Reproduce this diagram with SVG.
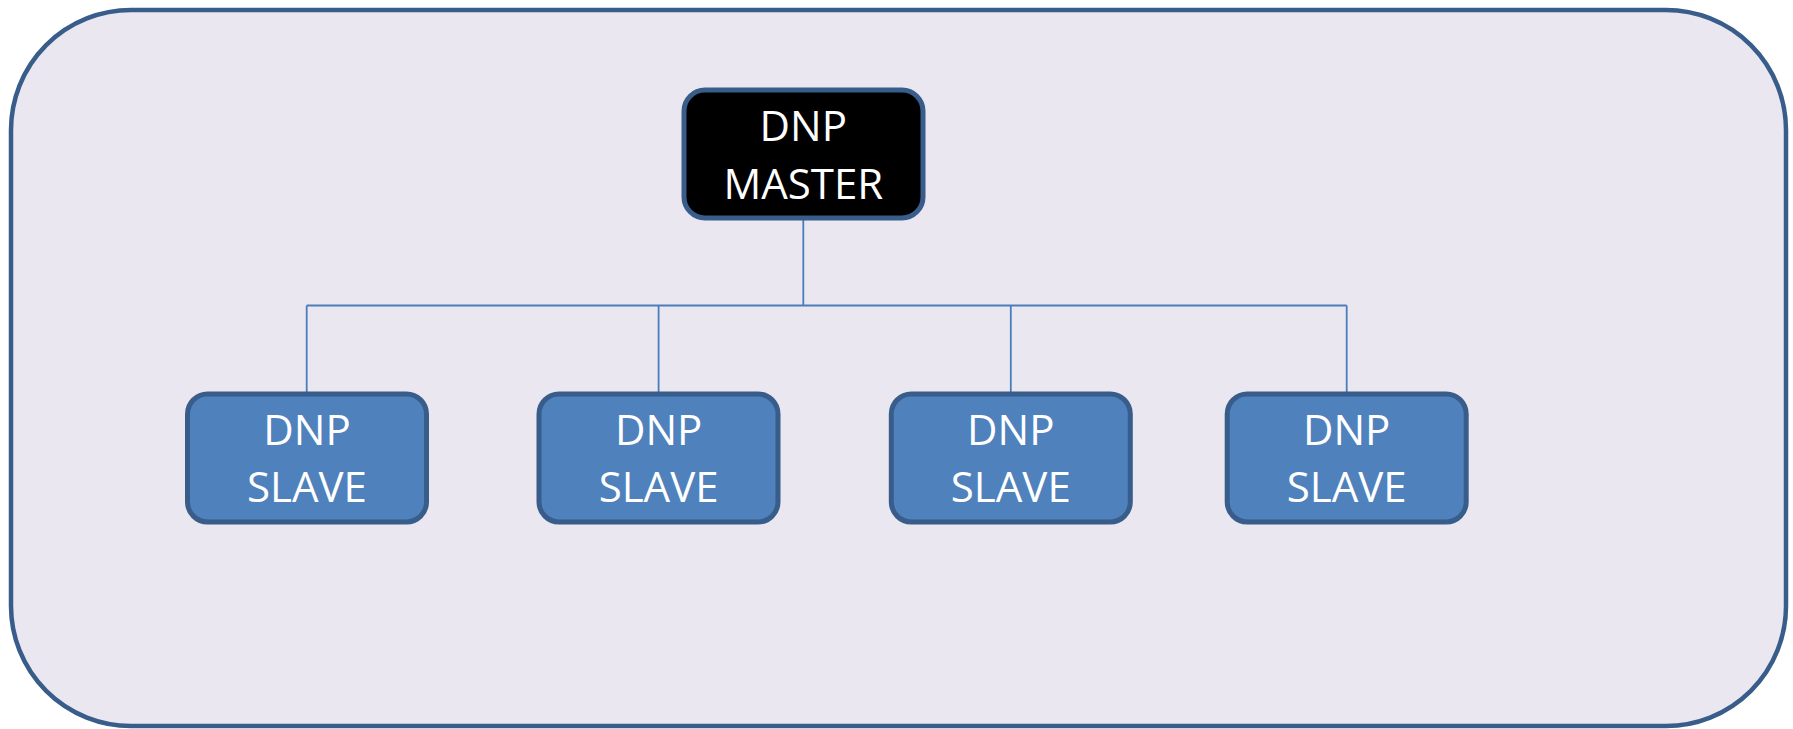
<svg xmlns="http://www.w3.org/2000/svg" width="1793" height="729" viewBox="0 0 1793 729">
<style>
.bg{fill:#EAE7F1;stroke:#385D8A;stroke-width:4.5}
.master{fill:#000000;stroke:#385D8A;stroke-width:5}
.slave{fill:#4F81BD;stroke:#385D8A;stroke-width:5}
.lbl{font-family:"Open Sans","Noto Sans",sans-serif;font-size:42px;fill:#FFFFFF;text-anchor:middle}
.conn{fill:none;stroke:#4A7EBB;stroke-width:1.8}
</style>
<rect class="bg" x="11" y="10" width="1775" height="716" rx="120" ry="120"/>
<g id="connectors">
<path class="conn" d="M803.3,219 V305.5 M306.7,305.5 H1346.7 M306.7,305.5 V394 M658.6,305.5 V394 M1010.8,305.5 V394 M1346.7,305.5 V394"/>
</g>
<g id="master">
<rect class="master" x="684" y="90" width="239" height="128" rx="21"/>
<text class="lbl" x="803.3" y="141">DNP</text>
<text class="lbl" x="803.3" y="199">MASTER</text>
</g>
<g id="slave1">
<rect class="slave" x="187.5" y="394" width="239" height="128" rx="20"/>
<text class="lbl" x="307" y="445">DNP</text>
<text class="lbl" x="307" y="502">SLAVE</text>
</g>
<g id="slave2">
<rect class="slave" x="539" y="394" width="239" height="128" rx="20"/>
<text class="lbl" x="658.6" y="445">DNP</text>
<text class="lbl" x="658.6" y="502">SLAVE</text>
</g>
<g id="slave3">
<rect class="slave" x="891.3" y="394" width="239" height="128" rx="20"/>
<text class="lbl" x="1010.8" y="445">DNP</text>
<text class="lbl" x="1010.8" y="502">SLAVE</text>
</g>
<g id="slave4">
<rect class="slave" x="1227.2" y="394" width="239" height="128" rx="20"/>
<text class="lbl" x="1346.7" y="445">DNP</text>
<text class="lbl" x="1346.7" y="502">SLAVE</text>
</g>
</svg>
